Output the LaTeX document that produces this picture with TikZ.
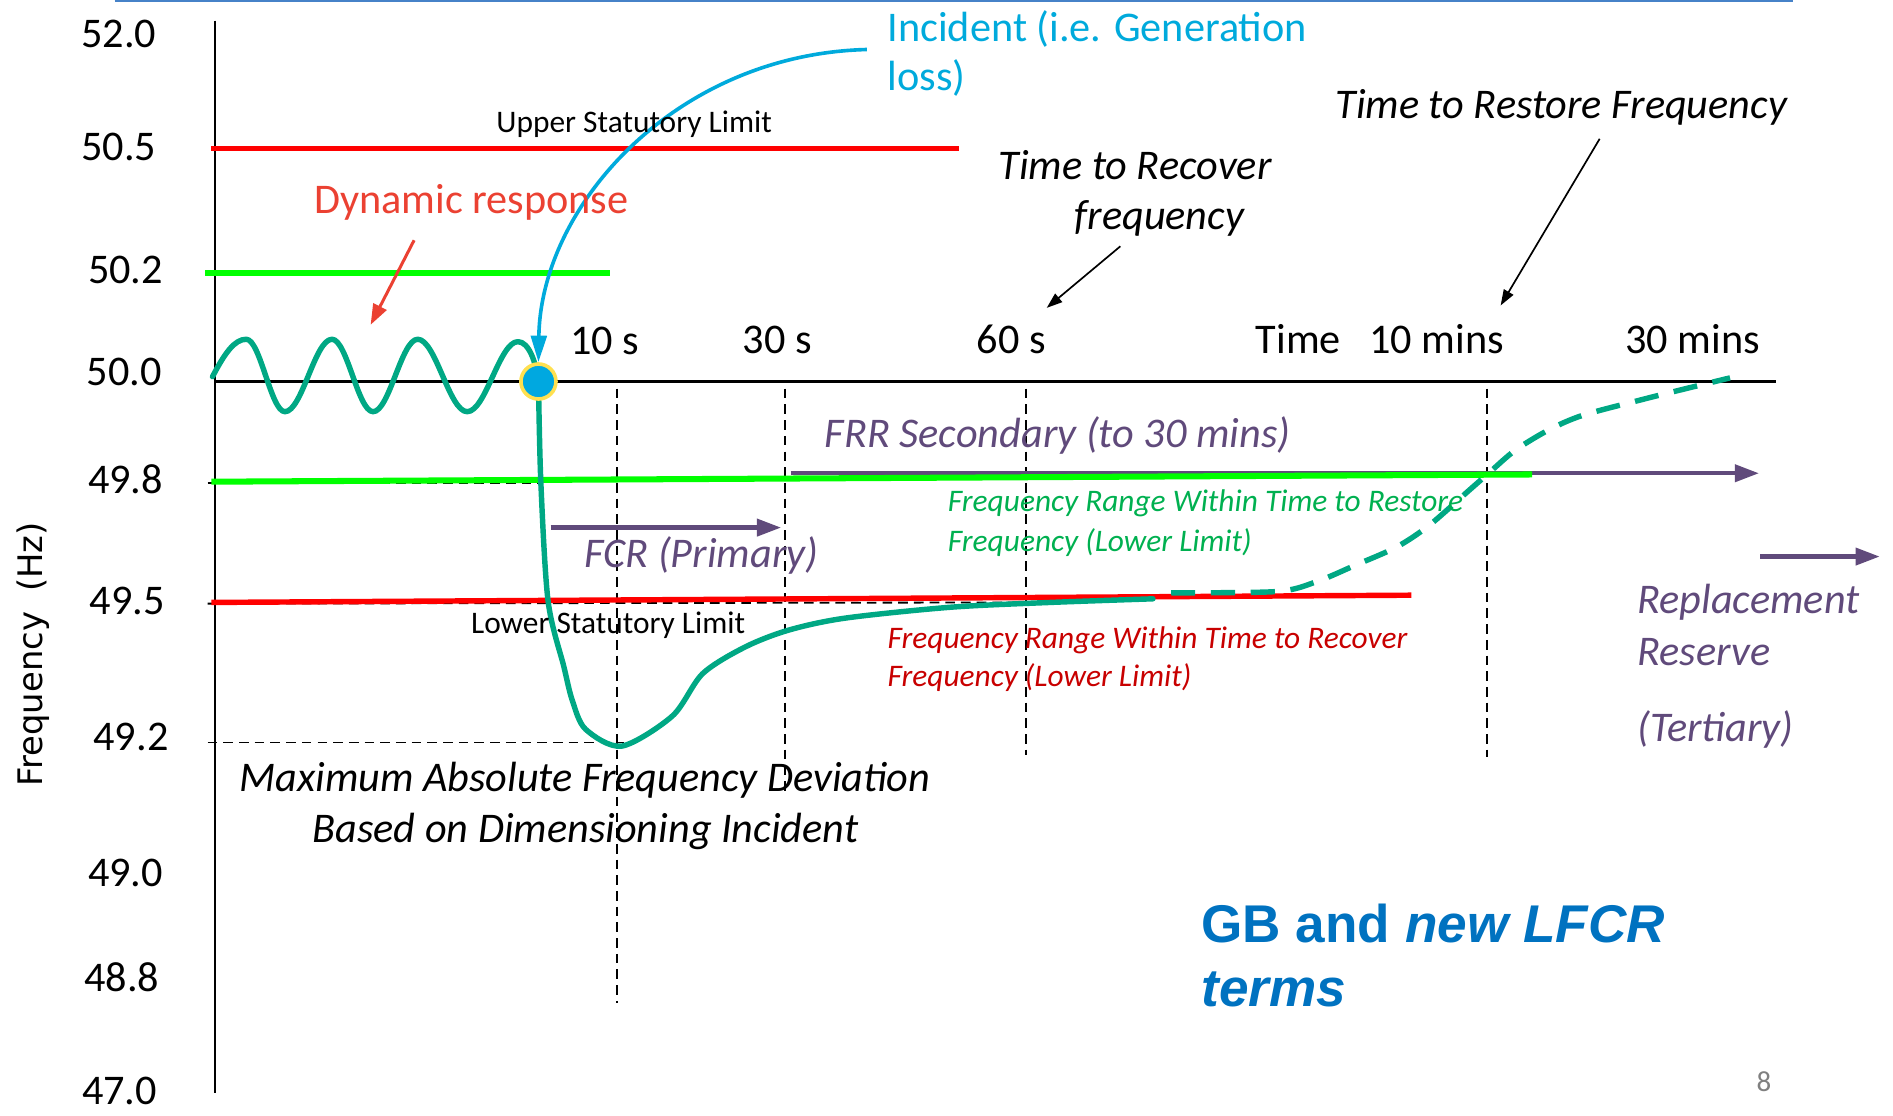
\documentclass[tikz,border=0pt]{standalone}
\usepackage{fontspec}
\setmainfont{Carlito}
\newfontfamily\gbfont{Liberation Sans}
\newfontfamily\labfont{DejaVu Sans}
\usetikzlibrary{arrows.meta}
\definecolor{tealc}{RGB}{0,168,132}
\definecolor{cyanc}{RGB}{0,170,220}
\definecolor{dotblue}{RGB}{0,168,224}
\definecolor{dotring}{RGB}{255,224,80}
\definecolor{purp}{RGB}{96,74,123}
\definecolor{brightred}{RGB}{255,0,0}
\definecolor{dynred}{RGB}{235,65,50}
\definecolor{darkred}{RGB}{200,0,0}
\definecolor{brightgreen}{RGB}{0,255,0}
\definecolor{textgreen}{RGB}{0,176,80}
\definecolor{topblue}{RGB}{70,130,200}
\definecolor{gbblue}{RGB}{0,114,192}
\begin{document}
\begin{tikzpicture}[x=1pt,y=-1pt,
  big/.style={font=\fontsize{35}{42}\selectfont, inner sep=0pt, anchor=base west},
  bigc/.style={font=\fontsize{35}{42}\selectfont, inner sep=0pt, anchor=base},
  small/.style={font=\fontsize{26}{31}\selectfont\itshape, inner sep=0pt, anchor=base west},
  smallup/.style={font=\fontsize{26}{31}\selectfont, inner sep=0pt, anchor=base west},
  redline/.style={line width=4.5pt, brightred},
  greenline/.style={line width=5pt, brightgreen},
  guide/.style={line width=1.5pt, dash pattern=on 8pt off 5pt},
  purparrow/.style={line width=3.5pt, purp, -{Triangle[length=20pt,width=14pt]}},
  blackarrow/.style={line width=1.4pt, -{Triangle[length=13pt,width=9pt]}},
  tealline/.style={line width=4.5pt, tealc, line join=round, line cap=round},
]
\useasboundingbox (0,0) rectangle (1568,924);

% top rule
\coordinate (topA) at (95,1);
\coordinate (topB) at (1485,1);
\draw[line width=2pt, topblue] (topA) -- (topB);

% y axis
\coordinate (yaxT) at (178,17);
\coordinate (yaxB) at (178,905);
\draw[line width=1.5pt] (yaxT) -- (yaxB);

% tick labels
\node[bigc] (t520) at (98.5,39) {52.0};
\node[bigc] (t505) at (98.5,133) {50.5};
\node[bigc] (t502) at (104,235) {50.2};
\node[bigc] (t500) at (103,319) {50.0};
\node[bigc] (t498) at (104,409) {49.8};
\node[bigc] (t495) at (105.5,509) {49.5};
\node[bigc] (t492) at (108.5,622) {49.2};
\node[bigc] (t490) at (104,734) {49.0};
\node[bigc] (t488) at (101,821) {48.8};
\node[bigc] (t470) at (99,915) {47.0};

\node[rotate=90, font=\labfont\fontsize{28}{34}\selectfont, inner sep=0pt] (ylab) at (27.5,542) {Frequency\hspace{0.6em}(Hz)};

% vertical dashed guides
\coordinate (v10T) at (511,322); \coordinate (v10B) at (511,831);
\coordinate (v30T) at (650,322); \coordinate (v30B) at (650,655);
\coordinate (v60T) at (850,322); \coordinate (v60B) at (850,625);
\coordinate (vmT) at (1232,322); \coordinate (vmB) at (1232,627);
\draw[guide] (v10T) -- (v10B);
\draw[guide] (v30T) -- (v30B);
\draw[guide] (v60T) -- (v60B);
\draw[guide] (vmT) -- (vmB);

% horizontal dashed guides
\coordinate (h498A) at (172,400); \coordinate (h498B) at (447,400);
\coordinate (h495A) at (172,500); \coordinate (h495B) at (850,499);
\coordinate (h492A) at (172,615); \coordinate (h492B) at (517,615);
\draw[guide] (h498A) -- (h498B);
\draw[guide] (h495A) -- (h495B);
\draw[guide] (h492A) -- (h492B);

% 50.0 axis
\coordinate (xaxA) at (178,316);
\coordinate (xaxB) at (1471,316);
\draw[line width=3pt] (xaxA) -- (xaxB);

% limit lines
\coordinate (ul0) at (175,123); \coordinate (ul1) at (794,123);
\draw[redline] (ul0) -- (ul1);
\coordinate (g20) at (170,226); \coordinate (g21) at (505,226);
\draw[greenline] (g20) -- (g21);

% FRR arrow then green 49.8 line
\coordinate (frrA) at (655,392); \coordinate (frrB) at (1457,392);
\draw[purparrow] (frrA) -- (frrB);
\coordinate (g80) at (175,399); \coordinate (g81) at (1269,393);
\draw[greenline] (g80) -- (g81);

\coordinate (ll0) at (175,499); \coordinate (ll1) at (1169,493);
\draw[redline] (ll0) -- (ll1);

% FCR and RR arrows
\coordinate (fcrA) at (456,437); \coordinate (fcrB) at (647,437);
\draw[purparrow] (fcrA) -- (fcrB);
\coordinate (rrA) at (1458,461); \coordinate (rrB) at (1557,461);
\draw[purparrow] (rrA) -- (rrB);

% oscillation before the incident
\draw[tealline] (176,312) .. controls (186,293) and (194,281) .. (204,281)
  .. controls (215.6,281) and (224.4,341) .. (236,341)
  .. controls (250.2,341) and (260.8,281) .. (275,281)
  .. controls (287.4,281) and (296.6,341) .. (309,341)
  .. controls (322.5,341) and (332.5,281) .. (346,281)
  .. controls (360.9,281) and (372.1,341) .. (387,341)
  .. controls (402.3,341) and (413.7,283) .. (429,283)
  .. controls (438,283) and (444,300) .. (446,316);

% frequency response after the incident
\draw[tealline] plot[smooth, tension=0.5] coordinates {(446,316) (448,400) (454,498) (467,552) (474,580) (485,604) (515,618) (557,593) (582,558) (617,536) (653,522) (700,512) (787,503) (870,499) (955,496)};
\draw[tealline, line cap=butt, dash pattern=on 20pt off 13pt] plot[smooth, tension=0.5] coordinates {(970,491) (1057,490) (1090,482) (1123,468) (1157,453) (1184,435) (1217,406) (1233,392) (1255,373) (1283,356) (1311,344) (1360,331) (1396,322) (1433,313)};

% incident dot
\node[circle, fill=dotblue, draw=dotring, line width=3pt, minimum size=29pt, inner sep=0pt] (dot) at (446,316) {};

% incident text and arrow
\node[big, text=cyanc] (inc1) at (735,34) {Incident (i.e. Generation};
\node[big, text=cyanc] (inc2) at (735,75) {loss)};
\coordinate (incA) at (718,41);
\draw[line width=3pt, cyanc, -{Triangle[length=22pt,width=13pt]}] (incA) .. controls (560,45) and (448,170) .. (dot.north);

% dynamic response
\node[big, text=dynred] (dyn) at (260,177) {Dynamic response};
\coordinate (dynA) at (343,199); \coordinate (dynB) at (307,269);
\draw[line width=2.5pt, dynred, -{Triangle[length=17pt,width=12pt]}] (dynA) -- (dynB);

% statutory limits
\node[smallup] (usl) at (411,110) {Upper Statutory Limit};
\node[smallup] (lsl) at (390,525) {Lower Statutory Limit};

% time labels
\node[big] (s10) at (472,294) {10 s};
\node[big] (s30) at (615,293) {30 s};
\node[big] (s60) at (809,293) {60 s};
\node[big] (tm) at (1040,293) {Time};
\node[big] (m10) at (1134,293) {10 mins};
\node[big] (m30) at (1346,293) {30 mins};

% time to recover / restore
\node[big, font=\fontsize{35}{42}\selectfont\itshape] (ttr1) at (827,149) {Time to Recover};
\node[big, font=\fontsize{35}{42}\selectfont\itshape] (ttr2) at (890,190) {frequency};
\coordinate (ttrA) at (928,204); \coordinate (ttrB) at (867,255);
\draw[blackarrow] (ttrA) -- (ttrB);
\node[big, font=\fontsize{35}{42}\selectfont\itshape] (tts) at (1106,98) {Time to Restore Frequency};
\coordinate (ttsA) at (1325,115); \coordinate (ttsB) at (1243,253);
\draw[blackarrow] (ttsA) -- (ttsB);

% reserve labels
\node[big, font=\fontsize{35}{42}\selectfont\itshape, text=purp] (frr) at (683,371) {FRR Secondary (to 30 mins)};
\node[big, font=\fontsize{35}{42}\selectfont\itshape, text=purp] (fcr) at (484,470) {FCR (Primary)};
\node[big, font=\fontsize{35}{42}\selectfont\itshape, text=purp] (rr1) at (1356,508) {Replacement};
\node[big, font=\fontsize{35}{42}\selectfont\itshape, text=purp] (rr2) at (1356,551) {Reserve};
\node[big, font=\fontsize{35}{42}\selectfont\itshape, text=purp] (rr3) at (1356,614) {(Tertiary)};

% frequency range texts
\node[small, text=textgreen] (fg1) at (785,424) {Frequency Range Within Time to Restore};
\node[small, text=textgreen] (fg2) at (785,457) {Frequency (Lower Limit)};
\node[small, text=darkred] (fr1) at (735,537) {Frequency Range Within Time to Recover};
\node[small, text=darkred] (fr2) at (735,569) {Frequency (Lower Limit)};

% max deviation
\node[bigc, font=\fontsize{35}{42}\selectfont\itshape] (mx1) at (484.5,656) {Maximum Absolute Frequency Deviation};
\node[bigc, font=\fontsize{35}{42}\selectfont\itshape] (mx2) at (485,698) {Based on Dimensioning Incident};

% title
\node[inner sep=0pt, anchor=base west, text=gbblue, font=\gbfont\bfseries\fontsize{44}{53}\selectfont] (gb1) at (995,781) {GB and \textit{new LFCR}};
\node[inner sep=0pt, anchor=base west, text=gbblue, font=\gbfont\bfseries\itshape\fontsize{44}{53}\selectfont] (gb2) at (995,834) {terms};

\node[inner sep=0pt, anchor=base, text=gray, font=\fontsize{24}{28}\selectfont] (pg) at (1461,904) {8};
\end{tikzpicture}
\end{document}
